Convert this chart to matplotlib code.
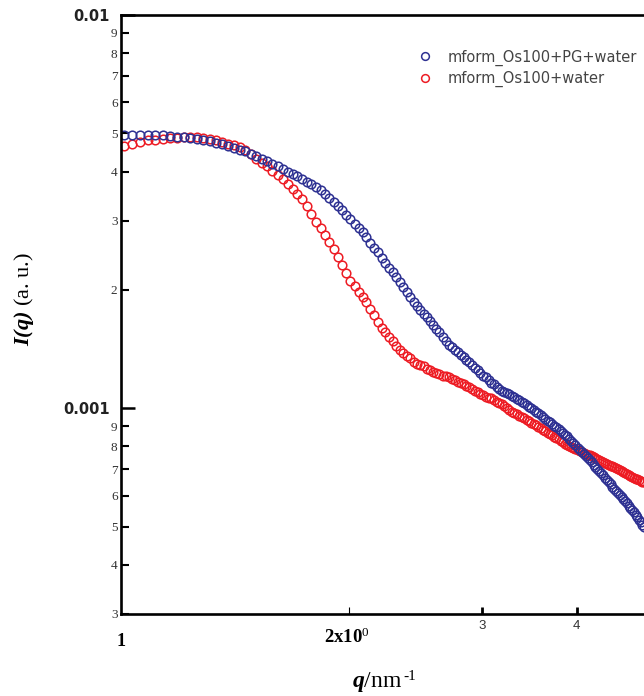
import numpy as np
import matplotlib
matplotlib.use('Agg')
import matplotlib.pyplot as plt
from matplotlib.ticker import FixedLocator, FixedFormatter, NullFormatter

plt.rcParams['mathtext.fontset'] = 'custom'
plt.rcParams['mathtext.rm'] = 'Liberation Serif'
plt.rcParams['mathtext.it'] = 'Liberation Serif:italic'
plt.rcParams['mathtext.bf'] = 'Liberation Serif:bold'
plt.rcParams['mathtext.bfit'] = 'Liberation Serif:italic:bold'

# q grid (nm^-1)
q = np.array([
    1.010, 1.035, 1.060, 1.085, 1.110, 1.135, 1.160, 1.185,
    1.210, 1.235, 1.260, 1.285, 1.310, 1.335, 1.360, 1.385,
    1.410, 1.435, 1.460, 1.485, 1.510, 1.535, 1.560, 1.585,
    1.610, 1.635, 1.660, 1.685, 1.710, 1.735, 1.760, 1.785,
    1.810, 1.835, 1.860, 1.885, 1.910, 1.935, 1.960, 1.985,
    2.010, 2.035, 2.060, 2.085, 2.110, 2.135, 2.160, 2.185,
    2.210, 2.235, 2.260, 2.285, 2.310, 2.335, 2.360, 2.385,
    2.410, 2.435, 2.460, 2.485, 2.510, 2.535, 2.560, 2.585,
    2.610, 2.635, 2.660, 2.685, 2.710, 2.735, 2.760, 2.785,
    2.810, 2.835, 2.860, 2.885, 2.910, 2.935, 2.960, 2.985,
    3.010, 3.035, 3.060, 3.085, 3.110, 3.135, 3.160, 3.185,
    3.210, 3.235, 3.260, 3.285, 3.310, 3.335, 3.360, 3.385,
    3.410, 3.435, 3.460, 3.485, 3.510, 3.535, 3.560, 3.585,
    3.610, 3.635, 3.660, 3.685, 3.710, 3.735, 3.760, 3.785,
    3.810, 3.835, 3.860, 3.885, 3.910, 3.935, 3.960, 3.985,
    4.010, 4.035, 4.060, 4.085, 4.110, 4.135, 4.160, 4.185,
    4.210, 4.235, 4.260, 4.285, 4.310, 4.335, 4.360, 4.385,
    4.410, 4.435, 4.460, 4.485, 4.510, 4.535, 4.560, 4.585,
    4.610, 4.635, 4.660, 4.685, 4.710, 4.735, 4.760, 4.785,
    4.810, 4.835, 4.860, 4.885, 4.910,
])

# I(q) in units of 1e-3
pg_water = np.array([
    4.95, 4.95, 4.96, 4.96, 4.95, 4.94, 4.92, 4.91,
    4.89, 4.86, 4.83, 4.80, 4.77, 4.74, 4.69, 4.64,
    4.60, 4.55, 4.50, 4.44, 4.38, 4.31, 4.25, 4.19,
    4.12, 4.06, 4.00, 3.95, 3.89, 3.83, 3.77, 3.72,
    3.66, 3.58, 3.50, 3.42, 3.34, 3.26, 3.19, 3.11,
    3.03, 2.95, 2.87, 2.80, 2.72, 2.64, 2.56, 2.49,
    2.41, 2.34, 2.28, 2.22, 2.16, 2.10, 2.04, 1.98,
    1.92, 1.86, 1.82, 1.78, 1.74, 1.71, 1.67, 1.63,
    1.59, 1.56, 1.52, 1.48, 1.45, 1.43, 1.41, 1.39,
    1.37, 1.35, 1.33, 1.31, 1.29, 1.27, 1.25, 1.23,
    1.21, 1.20, 1.18, 1.16, 1.15, 1.13, 1.12, 1.11,
    1.10, 1.095, 1.088, 1.077, 1.066, 1.057, 1.048, 1.038,
    1.029, 1.019, 1.010, 1.001, 0.991, 0.981, 0.971, 0.961,
    0.951, 0.941, 0.931, 0.922, 0.913, 0.904, 0.894, 0.885,
    0.876, 0.867, 0.857, 0.848, 0.837, 0.827, 0.816, 0.805,
    0.795, 0.784, 0.775, 0.765, 0.756, 0.747, 0.738, 0.729,
    0.719, 0.710, 0.701, 0.692, 0.683, 0.675, 0.666, 0.658,
    0.649, 0.641, 0.632, 0.624, 0.615, 0.608, 0.601, 0.594,
    0.587, 0.580, 0.573, 0.566, 0.559, 0.552, 0.545, 0.537,
    0.529, 0.521, 0.514, 0.506, 0.498,
])

water = np.array([
    4.65, 4.70, 4.75, 4.80, 4.82, 4.84, 4.86, 4.88,
    4.89, 4.90, 4.90, 4.87, 4.84, 4.80, 4.76, 4.71,
    4.67, 4.63, 4.54, 4.43, 4.31, 4.21, 4.12, 4.02,
    3.92, 3.83, 3.72, 3.61, 3.50, 3.40, 3.26, 3.12,
    2.98, 2.87, 2.76, 2.65, 2.54, 2.43, 2.32, 2.21,
    2.11, 2.05, 1.98, 1.92, 1.86, 1.79, 1.73, 1.66,
    1.60, 1.56, 1.52, 1.48, 1.44, 1.41, 1.38, 1.36,
    1.34, 1.31, 1.30, 1.29, 1.28, 1.26, 1.25, 1.24,
    1.23, 1.22, 1.21, 1.21, 1.20, 1.19, 1.18, 1.17,
    1.16, 1.15, 1.14, 1.13, 1.12, 1.11, 1.10, 1.09,
    1.08, 1.07, 1.06, 1.06, 1.05, 1.04, 1.03, 1.024,
    1.013, 1.003, 0.992, 0.981, 0.972, 0.965, 0.957, 0.950,
    0.943, 0.935, 0.928, 0.920, 0.913, 0.905, 0.898, 0.890,
    0.882, 0.875, 0.867, 0.861, 0.854, 0.847, 0.840, 0.834,
    0.827, 0.820, 0.813, 0.807, 0.802, 0.798, 0.793, 0.788,
    0.784, 0.779, 0.775, 0.771, 0.767, 0.763, 0.759, 0.755,
    0.751, 0.747, 0.743, 0.739, 0.735, 0.731, 0.727, 0.723,
    0.719, 0.715, 0.712, 0.708, 0.704, 0.700, 0.696, 0.692,
    0.689, 0.685, 0.681, 0.677, 0.673, 0.669, 0.666, 0.663,
    0.660, 0.657, 0.654, 0.651, 0.648,
])

labels = ['mform_Os100+PG+water', 'mform_Os100+water']

x_major = [3, 4, 5]
x_major_labels = ['3', '4', '5']
y_major = [1e-3, 1e-2]
y_major_labels = ['0.001', '0.01']
y_minor = [3e-4, 4e-4, 5e-4, 6e-4, 7e-4, 8e-4, 9e-4,
           2e-3, 3e-3, 4e-3, 5e-3, 6e-3, 7e-3, 8e-3, 9e-3]
y_minor_labels = ['3', '4', '5', '6', '7', '8', '9',
                  '2', '3', '4', '5', '6', '7', '8', '9']

BLUE = '#2e3192'
RED = '#ed1c24'

fig = plt.figure(figsize=(6.44, 6.96), dpi=100)
# axes runs past the right edge of the picture, like the reference
ax = fig.add_axes([121/644, 82/696, 589/644, 599/696])

red_line, = ax.plot(q, water * 1e-3, 'o', mfc='none', mec=RED, ms=6.2, mew=1.1)
blue_line, = ax.plot(q, pg_water * 1e-3, 'o', mfc='none', mec=BLUE, ms=6.2, mew=1.1)

ax.set_xscale('log')
ax.set_yscale('log')
ax.set_xlim(1, 6)
ax.set_ylim(3e-4, 1e-2)

ax.xaxis.set_major_locator(FixedLocator(x_major))
ax.xaxis.set_major_formatter(FixedFormatter(x_major_labels))
ax.xaxis.set_minor_locator(FixedLocator([2]))
ax.xaxis.set_minor_formatter(NullFormatter())
ax.yaxis.set_major_locator(FixedLocator(y_major))
ax.yaxis.set_major_formatter(FixedFormatter(y_major_labels))
ax.yaxis.set_minor_locator(FixedLocator(y_minor))
ax.yaxis.set_minor_formatter(FixedFormatter(y_minor_labels))

ax.tick_params(axis='y', which='major', direction='in', length=10, width=1.8,
               pad=8, labelsize=10.5, labelcolor='#222')
ax.tick_params(axis='y', which='minor', direction='in', length=5.5, width=1.5,
               pad=2.5, labelsize=9.5, labelcolor='#333')
ax.tick_params(axis='x', which='major', direction='in', length=5, width=2,
               pad=4, labelsize=9.5, labelcolor='#333')
ax.tick_params(axis='x', which='minor', direction='in', length=5, width=0.8)

for lab in ax.get_yticklabels():
    lab.set_fontfamily('DejaVu Sans')
    lab.set_fontweight('bold')
for lab in ax.get_yticklabels(minor=True):
    lab.set_fontfamily('Liberation Serif')
for lab in ax.get_xticklabels():
    lab.set_fontfamily('Liberation Sans')

for side in ['left', 'bottom', 'top']:
    ax.spines[side].set_linewidth(1.9)
ax.spines['right'].set_visible(False)

ax.annotate('1', xy=(1, 0), xycoords=('data', 'axes fraction'),
            xytext=(0, -20), textcoords='offset points', ha='center', va='center',
            fontfamily='Liberation Serif', fontweight='bold', fontsize=13)
ax.annotate(r'$\mathbf{2x10}^{0}$', xy=(2, 0), xycoords=('data', 'axes fraction'),
            xytext=(-1.5, -20.9), textcoords='offset points', ha='center', va='baseline',
            fontsize=13.5)

# x label: q/nm with a small raised "-1"
fig.text(352/644, 1 - 687/696, r'$\mathbfit{q}\mathrm{/nm}$',
         ha='left', va='baseline', fontsize=17)
fig.text(403/644, 1 - 680/696, '-1', ha='left', va='baseline',
         fontsize=11, fontfamily='Liberation Serif')
fig.text(24/644, 1 - 299/696, r'$\mathbfit{I(q)}$ (a. u.)', rotation=90,
         ha='center', va='center', fontsize=16, fontfamily='Liberation Serif')

ax.legend([blue_line, red_line], labels, loc='upper left',
          bbox_to_anchor=(417.7/644, 1 - 49.5/696), bbox_transform=fig.transFigure,
          frameon=False, borderpad=0, borderaxespad=0, handlelength=1.0,
          handletextpad=1.07, labelspacing=0.34, markerscale=0.9,
          prop={'family': 'DejaVu Sans', 'size': 10.5}, labelcolor='#444')

fig.savefig('out.png', dpi=100)
